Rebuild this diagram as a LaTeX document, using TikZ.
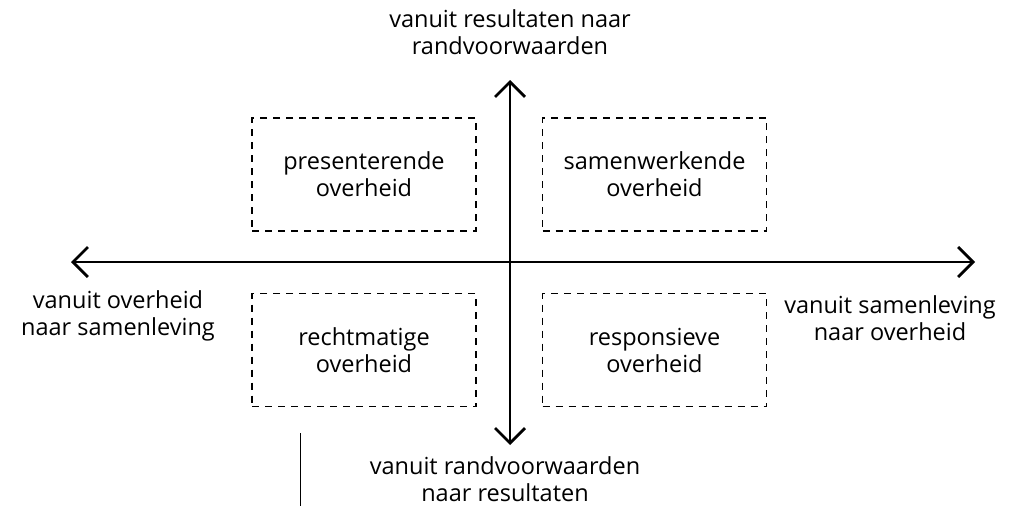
\documentclass[tikz,border=0pt]{standalone}
\usepackage{fontspec}
\setmainfont{Open Sans}
\usetikzlibrary{arrows.meta}
\begin{document}
\begin{tikzpicture}[x=1pt,y=-1pt,
  lbl/.style={align=center,font=\fontsize{23.5}{27}\selectfont,inner sep=0pt},
  qbox/.style={draw,dashed,dash pattern=on 7pt off 6pt,line width=1.1pt,minimum width=224pt,minimum height=113pt,align=center,font=\fontsize{23.5}{27}\selectfont},
  axis/.style={line width=2.8pt,{Straight Barb[length=15pt,width=30pt,line width=2.8pt]}-{Straight Barb[length=15pt,width=30pt,line width=2.8pt]}}]
\useasboundingbox (0,0) rectangle (1014,506);
\coordinate (L) at (71,262);
\coordinate (R) at (975,262);
\coordinate (T) at (510,80);
\coordinate (B) at (510,445);
\draw[axis] (L) -- (R);
\draw[axis] (B) -- (T);
\node[qbox] (tl) at (364,174.5) {presenterende\\overheid};
\node[qbox] (tr) at (654.5,174.5) {samenwerkende\\overheid};
\node[qbox] (bl) at (364,350) {rechtmatige\\overheid};
\node[qbox] (br) at (654.5,350) {responsieve\\overheid};
\node[lbl] (tlab) at (510,32) {vanuit resultaten naar\\randvoorwaarden};
\node[lbl] (llab) at (118,316) {vanuit overheid\\naar samenleving};
\node[lbl] (rlab) at (890,318) {vanuit samenleving\\naar overheid};
\node[lbl] (blab) at (505,479.5) {vanuit randvoorwaarden\\naar resultaten};
\coordinate (m1) at (300,433);
\coordinate (m2) at (300,506);
\draw[line width=1pt] (m1) -- (m2);
\end{tikzpicture}
\end{document}
